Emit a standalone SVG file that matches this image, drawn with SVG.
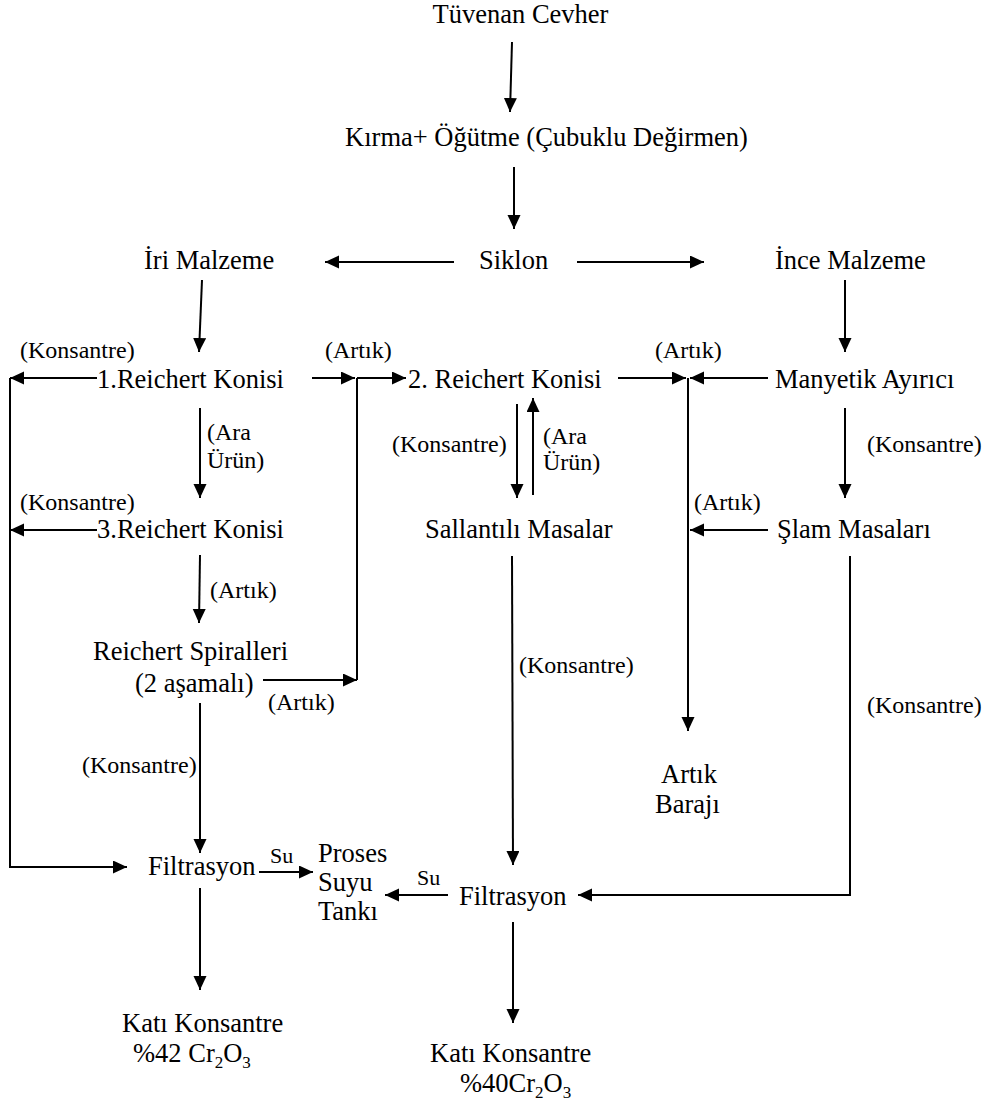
<svg xmlns="http://www.w3.org/2000/svg" width="987" height="1102" viewBox="0 0 987 1102">
<style>
text{font-family:"Liberation Serif","Times New Roman",serif;fill:#000}
.t{font-size:26.5px}
.l{font-size:24px}
.s{font-size:22px}
.c line,.c path{stroke:#000;stroke-width:2;fill:none}
.a{marker-end:url(#ah)}
</style>
<defs>
<marker id="ah" markerUnits="userSpaceOnUse" markerWidth="15" markerHeight="14" refX="14" refY="6.5" orient="auto">
<path d="M0,0 L14,6.5 L0,13 z" fill="#000"/>
</marker>
</defs>
<rect width="987" height="1102" fill="#fff"/>
<g id="connectors" class="c">
<line class="a" x1="512" y1="42" x2="510" y2="112"/>
<line class="a" x1="514" y1="167" x2="514" y2="229"/>
<line class="a" x1="454" y1="262" x2="325" y2="262"/>
<line class="a" x1="577" y1="262" x2="704" y2="262"/>
<line class="a" x1="202" y1="280" x2="199" y2="352"/>
<line class="a" x1="845" y1="280" x2="845" y2="352"/>
<line class="a" x1="97" y1="378" x2="10" y2="378"/>
<path class="a" d="M10,378 V867 H127"/>
<line class="a" x1="97" y1="530" x2="10" y2="530"/>
<line class="a" x1="312" y1="378" x2="355" y2="378"/>
<path d="M357,378 V680"/>
<line class="a" x1="357" y1="378" x2="406" y2="378"/>
<line class="a" x1="263" y1="680" x2="357" y2="680"/>
<line class="a" x1="200" y1="408" x2="200" y2="498"/>
<line class="a" x1="200" y1="555" x2="199" y2="623"/>
<line class="a" x1="200" y1="703" x2="200" y2="853"/>
<line class="a" x1="259" y1="872" x2="313" y2="872"/>
<line class="a" x1="200" y1="888" x2="200" y2="990"/>
<line class="a" x1="618" y1="378" x2="686" y2="378"/>
<line class="a" x1="768" y1="378" x2="690" y2="378"/>
<line class="a" x1="688" y1="378" x2="688" y2="731"/>
<line class="a" x1="845" y1="408" x2="845" y2="498"/>
<line class="a" x1="768" y1="530" x2="690" y2="530"/>
<line class="a" x1="517" y1="404" x2="517" y2="498"/>
<line class="a" x1="533" y1="495" x2="533" y2="398"/>
<line class="a" x1="512" y1="556" x2="513" y2="865"/>
<path class="a" d="M850,556 V895 H578"/>
<line class="a" x1="448" y1="895" x2="385" y2="895"/>
<line class="a" x1="513" y1="922" x2="513" y2="1023"/>
</g>
<g id="labels">
<text class="l" x="20" y="358">(Konsantre)</text>
<text class="l" x="325" y="358">(Artık)</text>
<text class="l" x="655" y="358">(Artık)</text>
<text class="l" x="207" y="440">(Ara</text>
<text class="l" x="207" y="468">Ürün)</text>
<text class="l" x="392" y="452">(Konsantre)</text>
<text class="l" x="543" y="444">(Ara</text>
<text class="l" x="543" y="470">Ürün)</text>
<text class="l" x="867" y="452">(Konsantre)</text>
<text class="l" x="20" y="510">(Konsantre)</text>
<text class="l" x="694" y="510">(Artık)</text>
<text class="l" x="210" y="598">(Artık)</text>
<text class="l" x="268" y="710">(Artık)</text>
<text class="l" x="519" y="673">(Konsantre)</text>
<text class="l" x="82" y="773">(Konsantre)</text>
<text class="l" x="867" y="713">(Konsantre)</text>
<text class="s" x="270" y="863">Su</text>
<text class="s" x="417" y="885">Su</text>
</g>
<g id="n-tuvenan"><text class="t" x="520.5" y="23" text-anchor="middle">Tüvenan Cevher</text></g>
<g id="n-kirma"><text class="t" x="546.5" y="146" text-anchor="middle">Kırma+ Öğütme (Çubuklu Değirmen)</text></g>
<g id="n-siklon"><text class="t" x="479" y="269">Siklon</text></g>
<g id="n-iri"><text class="t" x="144" y="269">İri Malzeme</text></g>
<g id="n-ince"><text class="t" x="775" y="269">İnce Malzeme</text></g>
<g id="n-reichert1"><text class="t" x="97" y="388">1.Reichert Konisi</text></g>
<g id="n-reichert2"><text class="t" x="408" y="388">2. Reichert Konisi</text></g>
<g id="n-manyetik"><text class="t" x="775" y="388">Manyetik Ayırıcı</text></g>
<g id="n-reichert3"><text class="t" x="97" y="538">3.Reichert Konisi</text></g>
<g id="n-sallantili"><text class="t" x="425" y="538">Sallantılı Masalar</text></g>
<g id="n-slam"><text class="t" x="777" y="538">Şlam Masaları</text></g>
<g id="n-spiral"><text class="t" x="93" y="660">Reichert Spiralleri</text><text class="t" x="135" y="692">(2 aşamalı)</text></g>
<g id="n-artikbaraji"><text class="t" x="661" y="783">Artık</text><text class="t" x="655" y="813">Barajı</text></g>
<g id="n-filtrasyon1"><text class="t" x="148" y="875">Filtrasyon</text></g>
<g id="n-proses"><text class="t" x="318" y="862">Proses</text><text class="t" x="318" y="891">Suyu</text><text class="t" x="318" y="920">Tankı</text></g>
<g id="n-filtrasyon2"><text class="t" x="459" y="905">Filtrasyon</text></g>
<g id="n-kati1"><text class="t" x="122" y="1032">Katı Konsantre</text><text class="t" x="133" y="1062">%42 Cr<tspan font-size="17" dy="6">2</tspan><tspan dy="-6">O</tspan><tspan font-size="17" dy="6">3</tspan></text></g>
<g id="n-kati2"><text class="t" x="430" y="1062">Katı Konsantre</text><text class="t" x="460" y="1092">%40Cr<tspan font-size="17" dy="6">2</tspan><tspan dy="-6">O</tspan><tspan font-size="17" dy="6">3</tspan></text></g>
</svg>
